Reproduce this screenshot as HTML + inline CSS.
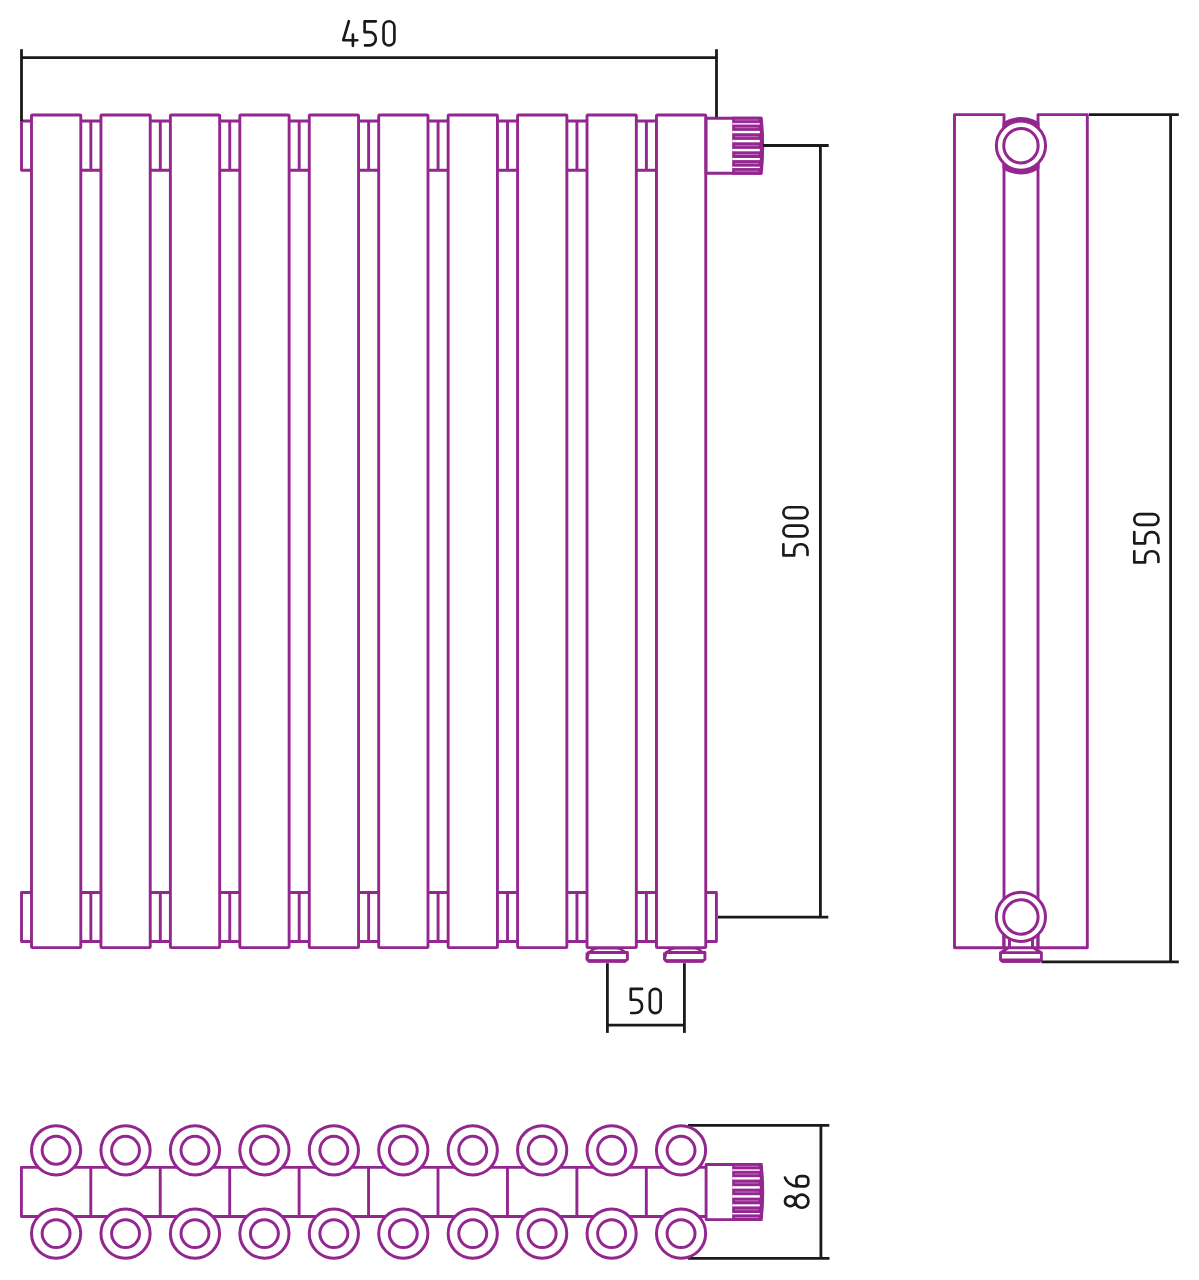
<!DOCTYPE html>
<html><head><meta charset="utf-8"><title>Radiator drawing</title>
<style>html,body{margin:0;padding:0;background:#fff;}body{width:1199px;height:1280px;overflow:hidden;font-family:"Liberation Sans",sans-serif;}svg{display:block;}</style>
</head><body>
<svg width="1199" height="1280" viewBox="0 0 1199 1280">
<rect width="1199" height="1280" fill="#fff"/>
<g fill="none" stroke="#93278f" stroke-width="2.9" stroke-linejoin="round">
<path d="M31.5,121H21.5V170.2H31.5"/>
<path d="M80.8,121H100.94M80.8,170.2H100.94M90.87,121V170.2"/>
<path d="M150.24,121H170.38M150.24,170.2H170.38M160.31,121V170.2"/>
<path d="M219.68,121H239.82M219.68,170.2H239.82M229.75,121V170.2"/>
<path d="M289.12,121H309.26M289.12,170.2H309.26M299.19,121V170.2"/>
<path d="M358.56,121H378.7M358.56,170.2H378.7M368.63,121V170.2"/>
<path d="M428,121H448.14M428,170.2H448.14M438.07,121V170.2"/>
<path d="M497.44,121H517.58M497.44,170.2H517.58M507.51,121V170.2"/>
<path d="M566.88,121H587.02M566.88,170.2H587.02M576.95,121V170.2"/>
<path d="M636.32,121H656.46M636.32,170.2H656.46M646.39,121V170.2"/>
<path d="M31.5,892.5H21.5V941.5H31.5"/>
<path d="M80.8,892.5H100.94M80.8,941.5H100.94M90.87,892.5V941.5"/>
<path d="M150.24,892.5H170.38M150.24,941.5H170.38M160.31,892.5V941.5"/>
<path d="M219.68,892.5H239.82M219.68,941.5H239.82M229.75,892.5V941.5"/>
<path d="M289.12,892.5H309.26M289.12,941.5H309.26M299.19,892.5V941.5"/>
<path d="M358.56,892.5H378.7M358.56,941.5H378.7M368.63,892.5V941.5"/>
<path d="M428,892.5H448.14M428,941.5H448.14M438.07,892.5V941.5"/>
<path d="M497.44,892.5H517.58M497.44,941.5H517.58M507.51,892.5V941.5"/>
<path d="M566.88,892.5H587.02M566.88,941.5H587.02M576.95,892.5V941.5"/>
<path d="M636.32,892.5H656.46M636.32,941.5H656.46M646.39,892.5V941.5"/>
<path d="M706,892.5H716.4V941.5H706"/>
<rect x="31.5" y="115" width="49.3" height="832.6" rx="0.8"/>
<rect x="100.94" y="115" width="49.3" height="832.6" rx="0.8"/>
<rect x="170.38" y="115" width="49.3" height="832.6" rx="0.8"/>
<rect x="239.82" y="115" width="49.3" height="832.6" rx="0.8"/>
<rect x="309.26" y="115" width="49.3" height="832.6" rx="0.8"/>
<rect x="378.7" y="115" width="49.3" height="832.6" rx="0.8"/>
<rect x="448.14" y="115" width="49.3" height="832.6" rx="0.8"/>
<rect x="517.58" y="115" width="49.3" height="832.6" rx="0.8"/>
<rect x="587.02" y="115" width="49.3" height="832.6" rx="0.8"/>
<rect x="656.46" y="115" width="49.3" height="832.6" rx="0.8"/>
</g>
<g fill="#fff" stroke="#93278f" stroke-width="2.9" stroke-linejoin="round">
<path d="M589,952.6Q593,948.4 598,948.3H616.4Q621.4,948.4 625.4,952.6" fill="none" stroke-width="2.5"/>
<path d="M588.5,952.5H627.4V959.3L625.4,961H588.5L587,959.3Z"/>
<path d="M587,952.5V959.3" fill="none"/>
<line x1="588.5" y1="961" x2="625.9" y2="961" stroke-width="3.6"/>
</g>
<g fill="#fff" stroke="#93278f" stroke-width="2.9" stroke-linejoin="round">
<path d="M666.5,952.6Q670.5,948.4 675.5,948.3H693.9Q698.9,948.4 702.9,952.6" fill="none" stroke-width="2.5"/>
<path d="M666,952.5H704.9V959.3L702.9,961H666L664.5,959.3Z"/>
<path d="M664.5,952.5V959.3" fill="none"/>
<line x1="666" y1="961" x2="703.4" y2="961" stroke-width="3.6"/>
</g>
<g transform="translate(0,0)">
<path d="M706.1,118.2H761.3Q764.2,145.75 761.3,173.3H706.1Z" fill="#fff" stroke="#93278f" stroke-width="2.9" stroke-linejoin="round"/>
<path d="M732.2,116.8H761.5Q765.6,145.75 761.5,174.7H732.2Z" fill="#93278f"/>
<rect x="732.2" y="122.9" width="27.6" height="1.85" fill="#f3c4f0"/>
<rect x="732.2" y="130.9" width="27.6" height="2.35" fill="#fff"/>
<rect x="732.2" y="139.9" width="27.6" height="2.4" fill="#fff"/>
<rect x="732.2" y="148.9" width="27.6" height="2.4" fill="#fff"/>
<rect x="732.2" y="158" width="27.6" height="2.1" fill="#fff"/>
<rect x="732.2" y="166.7" width="27.6" height="1.35" fill="#fff"/>
<line x1="735" y1="120" x2="758.5" y2="120" stroke="#c86cc6" stroke-width="1"/>
<line x1="735" y1="127.7" x2="758.5" y2="127.7" stroke="#c86cc6" stroke-width="1"/>
<line x1="735" y1="136.7" x2="758.5" y2="136.7" stroke="#c86cc6" stroke-width="1"/>
<line x1="735" y1="145.7" x2="758.5" y2="145.7" stroke="#c86cc6" stroke-width="1"/>
<line x1="735" y1="154.5" x2="758.5" y2="154.5" stroke="#c86cc6" stroke-width="1"/>
<line x1="735" y1="163.5" x2="758.5" y2="163.5" stroke="#c86cc6" stroke-width="1"/>
<line x1="735" y1="171.2" x2="758.5" y2="171.2" stroke="#c86cc6" stroke-width="1"/>
</g>
<line x1="21.5" y1="49.2" x2="21.5" y2="121" stroke="#1a1a1a" stroke-width="2.8" stroke-linecap="butt"/>
<line x1="21.5" y1="57.6" x2="716.5" y2="57.6" stroke="#1a1a1a" stroke-width="2.8" stroke-linecap="butt"/>
<line x1="716.5" y1="49.2" x2="716.5" y2="117" stroke="#1a1a1a" stroke-width="2.8" stroke-linecap="butt"/>
<g transform="translate(343.25,21.3)" fill="none" stroke="#1a1a1a" stroke-width="2.65" stroke-linecap="round" stroke-linejoin="round"><path transform="translate(0,0)" d="M5.65,-0.1L0,18.9H14.05M9.65,13.3V24.5"/><path transform="translate(21.35,0)" d="M11.2,0H0V10.8H4.9A6.3,6.3 0 0 1 11.2,17.1V17.8A6.3,6.3 0 0 1 4.9,24.1H0.4"/><path transform="translate(40.3,0)" d="M0,5.42A5.42,5.42 0 0 1 10.85,5.42V18.78A5.42,5.42 0 0 1 0,18.78Z"/></g>
<line x1="763" y1="145.5" x2="828.7" y2="145.5" stroke="#1a1a1a" stroke-width="2.8" stroke-linecap="butt"/>
<line x1="820.4" y1="145.5" x2="820.4" y2="917.2" stroke="#1a1a1a" stroke-width="2.8" stroke-linecap="butt"/>
<line x1="718" y1="917.2" x2="828.3" y2="917.2" stroke="#1a1a1a" stroke-width="2.8" stroke-linecap="butt"/>
<g transform="translate(783.4,555.4) rotate(-90)" fill="none" stroke="#1a1a1a" stroke-width="2.65" stroke-linecap="round" stroke-linejoin="round"><path transform="translate(0,0)" d="M11.2,0H0V10.8H4.9A6.3,6.3 0 0 1 11.2,17.1V17.8A6.3,6.3 0 0 1 4.9,24.1H0.4"/><path transform="translate(19,0)" d="M0,5.42A5.42,5.42 0 0 1 10.85,5.42V18.78A5.42,5.42 0 0 1 0,18.78Z"/><path transform="translate(37.3,0)" d="M0,5.42A5.42,5.42 0 0 1 10.85,5.42V18.78A5.42,5.42 0 0 1 0,18.78Z"/></g>
<line x1="607.4" y1="963.2" x2="607.4" y2="1032.9" stroke="#1a1a1a" stroke-width="2.8" stroke-linecap="butt"/>
<line x1="684.4" y1="963.2" x2="684.4" y2="1032.9" stroke="#1a1a1a" stroke-width="2.8" stroke-linecap="butt"/>
<line x1="607.4" y1="1025.2" x2="684.4" y2="1025.2" stroke="#1a1a1a" stroke-width="2.8" stroke-linecap="butt"/>
<g transform="translate(630.8,988.9)" fill="none" stroke="#1a1a1a" stroke-width="2.65" stroke-linecap="round" stroke-linejoin="round"><path transform="translate(0,0)" d="M11.2,0H0V10.8H4.9A6.3,6.3 0 0 1 11.2,17.1V17.8A6.3,6.3 0 0 1 4.9,24.1H0.4"/><path transform="translate(19,0)" d="M0,5.42A5.42,5.42 0 0 1 10.85,5.42V18.78A5.42,5.42 0 0 1 0,18.78Z"/></g>
<g fill="none" stroke="#93278f" stroke-width="2.9" stroke-linejoin="round">
<path d="M954.5,114.6H1004V947.8H954.5Z"/>
<path d="M1038,114.6H1087.3V947.8H1038Z"/>
<path d="M1004,947.8H1038"/>
</g>
<defs><clipPath id="pipe"><rect x="1002.5" y="100" width="37" height="90"/></clipPath></defs>
<ellipse cx="1020.95" cy="145.7" rx="31" ry="28.7" fill="#93278f" clip-path="url(#pipe)"/>
<circle cx="1020.95" cy="145.6" r="24.6" fill="#fff" stroke="#93278f" stroke-width="3.0"/>
<circle cx="1020.95" cy="145.7" r="17.2" fill="none" stroke="#93278f" stroke-width="3.0"/>
<circle cx="1020.9" cy="916.9" r="24.6" fill="#fff" stroke="#93278f" stroke-width="3.0"/>
<circle cx="1020.9" cy="917" r="17.2" fill="none" stroke="#93278f" stroke-width="3.0"/>
<g fill="none" stroke="#93278f" stroke-width="2.9" stroke-linejoin="round">
<path d="M1009.5,939V947.8M1032.5,939V947.8M1003.8,934V947.8M1037.9,934V947.8"/>
<path d="M1000.5,952.6H1041.4V959.6L1039.6,961.4H1002.3L1000.5,959.6Z M1001,952.4L1008,948 M1041,952.4L1034,948"/>
<line x1="1002" y1="960.7" x2="1040" y2="960.7" stroke-width="4.2"/>
</g>
<line x1="1089" y1="114.7" x2="1178.8" y2="114.7" stroke="#1a1a1a" stroke-width="2.8" stroke-linecap="butt"/>
<line x1="1170.6" y1="114.7" x2="1170.6" y2="961.9" stroke="#1a1a1a" stroke-width="2.8" stroke-linecap="butt"/>
<line x1="1041.5" y1="961.9" x2="1178.8" y2="961.9" stroke="#1a1a1a" stroke-width="2.8" stroke-linecap="butt"/>
<g transform="translate(1134.3,562.4) rotate(-90)" fill="none" stroke="#1a1a1a" stroke-width="2.65" stroke-linecap="round" stroke-linejoin="round"><path transform="translate(0,0)" d="M11.2,0H0V10.8H4.9A6.3,6.3 0 0 1 11.2,17.1V17.8A6.3,6.3 0 0 1 4.9,24.1H0.4"/><path transform="translate(19.1,0)" d="M11.2,0H0V10.8H4.9A6.3,6.3 0 0 1 11.2,17.1V17.8A6.3,6.3 0 0 1 4.9,24.1H0.4"/><path transform="translate(37.5,0)" d="M0,5.42A5.42,5.42 0 0 1 10.85,5.42V18.78A5.42,5.42 0 0 1 0,18.78Z"/></g>
<line x1="688" y1="1125.3" x2="829.3" y2="1125.3" stroke="#1a1a1a" stroke-width="2.8" stroke-linecap="butt"/>
<line x1="688" y1="1258.3" x2="829.5" y2="1258.3" stroke="#1a1a1a" stroke-width="2.8" stroke-linecap="butt"/>
<line x1="820.9" y1="1125.3" x2="820.9" y2="1258.3" stroke="#1a1a1a" stroke-width="2.8" stroke-linecap="butt"/>
<g transform="translate(784.8,1207.6) rotate(-90)" fill="none" stroke="#1a1a1a" stroke-width="2.65" stroke-linecap="round" stroke-linejoin="round"><path transform="translate(0,0)" d="M6.4,0.2A4.9,5.2 0 1 1 6.39,0.2ZM6.4,10.6A6.45,6.5 0 1 1 6.39,10.6Z"/><path transform="translate(21.2,0)" d="M8.8,0.2C5,1.4 0.3,5.5 0,12.5M4,11.6H6.3A4,4 0 0 1 10.3,15.6V19.5A4,4 0 0 1 6.3,23.5H4A4,4 0 0 1 0,19.5V15.6A4,4 0 0 1 4,11.6Z"/></g>
<g fill="none" stroke="#93278f" stroke-width="2.9" stroke-linejoin="round">
<path d="M706.1,1167.4H21.4V1216.5H706.1"/>
<path d="M90.8,1167.4V1216.5"/>
<path d="M160.24,1167.4V1216.5"/>
<path d="M229.68,1167.4V1216.5"/>
<path d="M299.12,1167.4V1216.5"/>
<path d="M368.56,1167.4V1216.5"/>
<path d="M438,1167.4V1216.5"/>
<path d="M507.44,1167.4V1216.5"/>
<path d="M576.88,1167.4V1216.5"/>
<path d="M646.32,1167.4V1216.5"/>
</g>
<circle cx="56.1" cy="1150.3" r="24.6" fill="#fff" stroke="#93278f" stroke-width="3"/>
<circle cx="56.1" cy="1150.3" r="13.95" fill="none" stroke="#93278f" stroke-width="3"/>
<circle cx="56.1" cy="1233.6" r="24.6" fill="#fff" stroke="#93278f" stroke-width="3"/>
<circle cx="56.1" cy="1233.6" r="13.95" fill="none" stroke="#93278f" stroke-width="3"/>
<circle cx="125.54" cy="1150.3" r="24.6" fill="#fff" stroke="#93278f" stroke-width="3"/>
<circle cx="125.54" cy="1150.3" r="13.95" fill="none" stroke="#93278f" stroke-width="3"/>
<circle cx="125.54" cy="1233.6" r="24.6" fill="#fff" stroke="#93278f" stroke-width="3"/>
<circle cx="125.54" cy="1233.6" r="13.95" fill="none" stroke="#93278f" stroke-width="3"/>
<circle cx="194.98" cy="1150.3" r="24.6" fill="#fff" stroke="#93278f" stroke-width="3"/>
<circle cx="194.98" cy="1150.3" r="13.95" fill="none" stroke="#93278f" stroke-width="3"/>
<circle cx="194.98" cy="1233.6" r="24.6" fill="#fff" stroke="#93278f" stroke-width="3"/>
<circle cx="194.98" cy="1233.6" r="13.95" fill="none" stroke="#93278f" stroke-width="3"/>
<circle cx="264.42" cy="1150.3" r="24.6" fill="#fff" stroke="#93278f" stroke-width="3"/>
<circle cx="264.42" cy="1150.3" r="13.95" fill="none" stroke="#93278f" stroke-width="3"/>
<circle cx="264.42" cy="1233.6" r="24.6" fill="#fff" stroke="#93278f" stroke-width="3"/>
<circle cx="264.42" cy="1233.6" r="13.95" fill="none" stroke="#93278f" stroke-width="3"/>
<circle cx="333.86" cy="1150.3" r="24.6" fill="#fff" stroke="#93278f" stroke-width="3"/>
<circle cx="333.86" cy="1150.3" r="13.95" fill="none" stroke="#93278f" stroke-width="3"/>
<circle cx="333.86" cy="1233.6" r="24.6" fill="#fff" stroke="#93278f" stroke-width="3"/>
<circle cx="333.86" cy="1233.6" r="13.95" fill="none" stroke="#93278f" stroke-width="3"/>
<circle cx="403.3" cy="1150.3" r="24.6" fill="#fff" stroke="#93278f" stroke-width="3"/>
<circle cx="403.3" cy="1150.3" r="13.95" fill="none" stroke="#93278f" stroke-width="3"/>
<circle cx="403.3" cy="1233.6" r="24.6" fill="#fff" stroke="#93278f" stroke-width="3"/>
<circle cx="403.3" cy="1233.6" r="13.95" fill="none" stroke="#93278f" stroke-width="3"/>
<circle cx="472.74" cy="1150.3" r="24.6" fill="#fff" stroke="#93278f" stroke-width="3"/>
<circle cx="472.74" cy="1150.3" r="13.95" fill="none" stroke="#93278f" stroke-width="3"/>
<circle cx="472.74" cy="1233.6" r="24.6" fill="#fff" stroke="#93278f" stroke-width="3"/>
<circle cx="472.74" cy="1233.6" r="13.95" fill="none" stroke="#93278f" stroke-width="3"/>
<circle cx="542.18" cy="1150.3" r="24.6" fill="#fff" stroke="#93278f" stroke-width="3"/>
<circle cx="542.18" cy="1150.3" r="13.95" fill="none" stroke="#93278f" stroke-width="3"/>
<circle cx="542.18" cy="1233.6" r="24.6" fill="#fff" stroke="#93278f" stroke-width="3"/>
<circle cx="542.18" cy="1233.6" r="13.95" fill="none" stroke="#93278f" stroke-width="3"/>
<circle cx="611.62" cy="1150.3" r="24.6" fill="#fff" stroke="#93278f" stroke-width="3"/>
<circle cx="611.62" cy="1150.3" r="13.95" fill="none" stroke="#93278f" stroke-width="3"/>
<circle cx="611.62" cy="1233.6" r="24.6" fill="#fff" stroke="#93278f" stroke-width="3"/>
<circle cx="611.62" cy="1233.6" r="13.95" fill="none" stroke="#93278f" stroke-width="3"/>
<circle cx="681.06" cy="1150.3" r="24.6" fill="#fff" stroke="#93278f" stroke-width="3"/>
<circle cx="681.06" cy="1150.3" r="13.95" fill="none" stroke="#93278f" stroke-width="3"/>
<circle cx="681.06" cy="1233.6" r="24.6" fill="#fff" stroke="#93278f" stroke-width="3"/>
<circle cx="681.06" cy="1233.6" r="13.95" fill="none" stroke="#93278f" stroke-width="3"/>
<g transform="translate(0,1046.3)">
<path d="M706.1,118.2H761.3Q764.2,145.75 761.3,173.3H706.1Z" fill="#fff" stroke="#93278f" stroke-width="2.9" stroke-linejoin="round"/>
<path d="M732.2,116.8H761.5Q765.6,145.75 761.5,174.7H732.2Z" fill="#93278f"/>
<rect x="732.2" y="122.9" width="27.6" height="1.85" fill="#f3c4f0"/>
<rect x="732.2" y="130.9" width="27.6" height="2.35" fill="#fff"/>
<rect x="732.2" y="139.9" width="27.6" height="2.4" fill="#fff"/>
<rect x="732.2" y="148.9" width="27.6" height="2.4" fill="#fff"/>
<rect x="732.2" y="158" width="27.6" height="2.1" fill="#fff"/>
<rect x="732.2" y="166.7" width="27.6" height="1.35" fill="#fff"/>
<line x1="735" y1="120" x2="758.5" y2="120" stroke="#c86cc6" stroke-width="1"/>
<line x1="735" y1="127.7" x2="758.5" y2="127.7" stroke="#c86cc6" stroke-width="1"/>
<line x1="735" y1="136.7" x2="758.5" y2="136.7" stroke="#c86cc6" stroke-width="1"/>
<line x1="735" y1="145.7" x2="758.5" y2="145.7" stroke="#c86cc6" stroke-width="1"/>
<line x1="735" y1="154.5" x2="758.5" y2="154.5" stroke="#c86cc6" stroke-width="1"/>
<line x1="735" y1="163.5" x2="758.5" y2="163.5" stroke="#c86cc6" stroke-width="1"/>
<line x1="735" y1="171.2" x2="758.5" y2="171.2" stroke="#c86cc6" stroke-width="1"/>
</g>
</svg>
</body></html>
